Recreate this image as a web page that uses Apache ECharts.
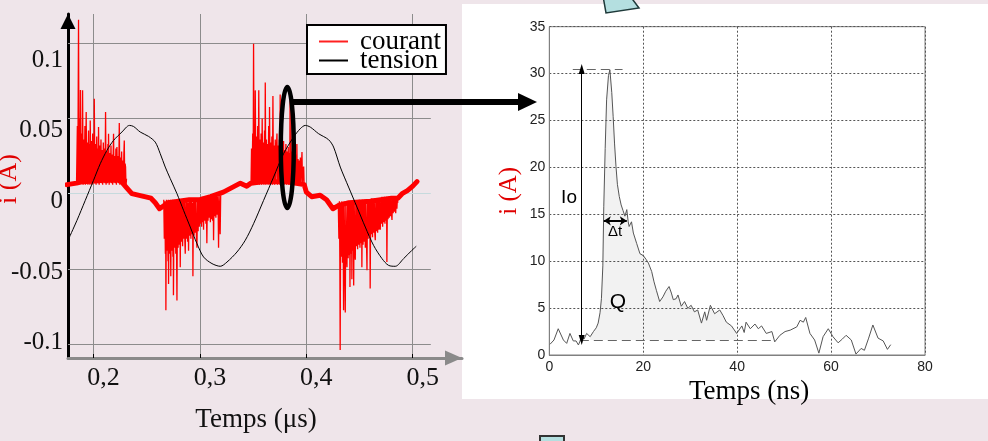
<!DOCTYPE html>
<html>
<head>
<meta charset="utf-8">
<script src="https://cdn.jsdelivr.net/npm/echarts@6/dist/echarts.min.js"></script>
<style>
html,body{margin:0;padding:0;background:#efe5ea;}
#chart{width:988px;height:441px;}
</style>
</head>
<body>
<div id="chart"></div>
<script>
// ---------- LEFT CHART DATA (time in µs, current in A) ----------
const leftTickX = [0.2, 0.3, 0.4, 0.5];
const leftTickY = [-0.1, -0.05, 0, 0.05, 0.1];

// tension (black, arbitrary scale drawn on the current axis)
const tension = [
  [0.176,-0.031],[0.1844,-0.0178],[0.1922,-0.0045],[0.2,0.0089],[0.2063,0.0199],[0.2126,0.0288],
  [0.2188,0.0354],[0.2267,0.041],[0.2338,0.0454],[0.2376,0.0447],[0.2439,0.041],[0.2517,0.0381],
  [0.258,0.0343],[0.2627,0.0266],[0.2674,0.0177],[0.2721,0.01],[0.2784,0],[0.2846,-0.0111],
  [0.2909,-0.0222],[0.2972,-0.0332],[0.3034,-0.0421],[0.3113,-0.0465],[0.3191,-0.0483],
  [0.3254,-0.0455],[0.3348,-0.0388],[0.3426,-0.031],[0.3504,-0.02],[0.3598,-0.0045],
  [0.3692,0.011],[0.3786,0.0266],[0.388,0.0376],[0.3943,0.0432],[0.399,0.0454],[0.4037,0.0443],
  [0.4115,0.0399],[0.4209,0.0359],[0.4256,0.031],[0.4319,0.0177],[0.4397,0.0044],[0.4476,-0.0089],
  [0.4554,-0.0222],[0.4632,-0.0344],[0.4711,-0.0432],[0.4773,-0.0477],[0.4836,-0.0483],
  [0.4914,-0.0432],[0.4992,-0.0377],[0.5033,-0.035]
];

// courant: slow drift band
const courantBase = [
  [0.175,0.006],[0.184,0.007],[0.19,0.008],[0.21,0.009],[0.225,0.009],[0.231,0.004],[0.236,0.0],
  [0.242,-0.001],[0.248,-0.002],[0.254,-0.003],[0.258,-0.006],[0.262,-0.010],[0.266,-0.008],
  [0.27,-0.006],[0.28,-0.005],[0.29,-0.004],[0.30,-0.004],[0.31,-0.002],[0.318,0.0],[0.322,0.001],
  [0.33,0.004],[0.338,0.007],[0.344,0.005],[0.348,0.007],[0.36,0.008],[0.38,0.008],[0.398,0.006],
  [0.400,0.001],[0.405,-0.002],[0.413,-0.001],[0.419,-0.004],[0.425,-0.010],[0.430,-0.008],
  [0.44,-0.006],[0.46,-0.005],[0.47,-0.004],[0.48,-0.003],[0.486,-0.003],[0.49,0.0],[0.495,0.002],
  [0.50,0.005],[0.504,0.008]
];

// courant: discharge bursts (positive half-wave 1)
const burst1 = [
  [0.1840,0.006],[0.1848,0.045],[0.1852,0.007],[0.1859,0.1157],[0.1864,0.008],[0.1870,0.050],
  [0.1874,0.007],[0.1877,0.069],[0.1882,0.008],[0.1889,0.040],[0.1893,0.007],[0.1897,0.0687],
  [0.1902,0.006],[0.1908,0.036],[0.1913,0.007],[0.1919,0.045],[0.1924,0.006],[0.1931,0.0543],
  [0.1936,0.007],[0.1942,0.034],[0.1947,0.006],[0.1953,0.042],[0.1958,0.007],[0.1963,0.033],
  [0.1966,0.006],[0.1969,0.0487],[0.1975,0.007],[0.1981,0.035],[0.1986,0.006],[0.1992,0.040],
  [0.1997,0.008],[0.2002,0.032],[0.2004,0.007],[0.2007,0.0632],[0.2013,0.007],[0.2019,0.033],
  [0.2024,0.006],[0.2030,0.038],[0.2035,0.008],[0.2041,0.030],[0.2044,0.007],[0.2047,0.0443],
  [0.2053,0.006],[0.2059,0.032],[0.2064,0.008],[0.2070,0.036],[0.2075,0.007],[0.2081,0.029],
  [0.2086,0.006],[0.2092,0.034],[0.2097,0.008],[0.2103,0.030],[0.2108,0.007],[0.2113,0.0543],
  [0.2118,0.006],[0.2124,0.028],[0.2129,0.007],[0.2135,0.033],[0.2138,0.008],[0.2141,0.0399],
  [0.2147,0.006],[0.2153,0.027],[0.2158,0.008],[0.2164,0.032],[0.2169,0.007],[0.2175,0.026],
  [0.2180,0.006],[0.2188,0.0399],[0.2193,0.008],[0.2199,0.025],[0.2204,0.007],[0.2210,0.030],
  [0.2215,0.006],[0.2220,0.031],[0.2225,0.008],[0.2231,0.025],[0.2236,0.007],[0.2242,0.047],
  [0.2247,0.006],[0.2253,0.024],[0.2258,0.008],[0.2264,0.028],[0.2269,0.007],[0.2275,0.022],
  [0.2280,0.006],[0.2285,0.026],[0.2289,0.0354],[0.2293,0.007],[0.2297,0.020],[0.2301,0.0177],
  [0.2305,0.005],[0.2310,0.010]
];
// negative half-wave 1
const burst2 = [
  [0.2660,-0.004],[0.2665,-0.030],[0.2670,-0.005],[0.2675,-0.040],[0.2678,-0.006],[0.2680,-0.0776],
  [0.2685,-0.004],[0.2690,-0.038],[0.2695,-0.005],[0.2700,-0.045],[0.2703,-0.004],[0.2705,-0.060],
  [0.2710,-0.005],[0.2716,-0.040],[0.2721,-0.004],[0.2726,-0.055],[0.2731,-0.006],[0.2736,-0.038],
  [0.2741,-0.004],[0.2746,-0.042],[0.2749,-0.005],[0.2751,-0.0676],[0.2757,-0.004],[0.2762,-0.036],
  [0.2767,-0.006],[0.2773,-0.040],[0.2778,-0.005],[0.2781,-0.045],[0.2784,-0.071],[0.2789,-0.004],
  [0.2795,-0.036],[0.2800,-0.005],[0.2806,-0.034],[0.2811,-0.004],[0.2815,-0.049],[0.2820,-0.006],
  [0.2826,-0.032],[0.2831,-0.004],[0.2837,-0.035],[0.2842,-0.005],[0.2848,-0.030],[0.2853,-0.004],
  [0.2859,-0.033],[0.2862,-0.040],[0.2867,-0.005],[0.2873,-0.030],[0.2878,-0.004],[0.2884,-0.032],
  [0.2889,-0.006],[0.2893,-0.038],[0.2898,-0.004],[0.2904,-0.028],[0.2909,-0.005],[0.2915,-0.030],
  [0.2920,-0.004],[0.2926,-0.027],[0.2931,-0.006],[0.2934,-0.055],[0.2939,-0.004],[0.2945,-0.028],
  [0.2950,-0.005],[0.2956,-0.026],[0.2961,-0.003],[0.2967,-0.029],[0.2972,-0.036],[0.2977,-0.004],
  [0.2983,-0.025],[0.2988,-0.003],[0.2994,-0.022],[0.2999,-0.004],[0.3005,-0.020],[0.3010,-0.003],
  [0.3016,-0.022],[0.3021,-0.002],[0.3027,-0.019],[0.3031,-0.003],[0.3034,-0.024],[0.3039,-0.002],
  [0.3045,-0.018],[0.3050,-0.003],[0.3056,-0.020],[0.3060,-0.002],[0.3065,-0.033],[0.3070,-0.003],
  [0.3076,-0.018],[0.3081,-0.002],[0.3087,-0.016],[0.3092,-0.001],[0.3098,-0.019],[0.3103,-0.002],
  [0.3109,-0.017],[0.3114,-0.001],[0.3120,-0.018],[0.3125,-0.002],[0.3128,-0.031],[0.3133,-0.001],
  [0.3139,-0.015],[0.3144,-0.002],[0.3150,-0.016],[0.3155,-0.001],[0.3161,-0.014],[0.3166,-0.002],
  [0.3172,-0.016],[0.3175,-0.036],[0.3180,-0.001],[0.3185,-0.012],[0.3190,-0.027],[0.3195,-0.001]
];
// positive half-wave 2
const burst3 = [
  [0.3480,0.006],[0.3485,0.030],[0.3490,0.007],[0.3496,0.040],[0.3500,0.006],[0.3504,0.0997],
  [0.3509,0.007],[0.3515,0.035],[0.3518,0.006],[0.3520,0.0687],[0.3526,0.007],[0.3532,0.038],
  [0.3537,0.006],[0.3543,0.045],[0.3548,0.008],[0.3553,0.0687],[0.3558,0.006],[0.3564,0.036],
  [0.3569,0.007],[0.3575,0.040],[0.3580,0.006],[0.3585,0.050],[0.3590,0.008],[0.3596,0.034],
  [0.3601,0.006],[0.3607,0.042],[0.3611,0.007],[0.3614,0.074],[0.3619,0.006],[0.3625,0.036],
  [0.3630,0.008],[0.3636,0.033],[0.3641,0.006],[0.3646,0.045],[0.3651,0.007],[0.3654,0.0576],
  [0.3659,0.006],[0.3665,0.034],[0.3670,0.008],[0.3676,0.038],[0.3681,0.006],[0.3686,0.065],
  [0.3691,0.007],[0.3697,0.032],[0.3702,0.006],[0.3708,0.036],[0.3713,0.008],[0.3719,0.030],
  [0.3724,0.040],[0.3729,0.006],[0.3735,0.032],[0.3740,0.007],[0.3746,0.036],[0.3751,0.006],
  [0.3754,0.066],[0.3759,0.008],[0.3765,0.030],[0.3770,0.006],[0.3776,0.034],[0.3781,0.007],
  [0.3786,0.035],[0.3791,0.006],[0.3797,0.029],[0.3802,0.008],[0.3808,0.033],[0.3813,0.006],
  [0.3819,0.028],[0.3824,0.007],[0.3830,0.031],[0.3835,0.006],[0.3841,0.027],[0.3844,0.007],
  [0.3847,0.062],[0.3852,0.006],[0.3858,0.028],[0.3863,0.008],[0.3866,0.050],[0.3871,0.006],
  [0.3877,0.027],[0.3880,0.035],[0.3885,0.007],[0.3891,0.025],[0.3896,0.006],[0.3902,0.026],
  [0.3907,0.008],[0.3911,0.033],[0.3916,0.006],[0.3922,0.023],[0.3927,0.007],[0.3933,0.022],
  [0.3938,0.006],[0.3944,0.024],[0.3949,0.007],[0.3955,0.020],[0.3959,0.0277],[0.3964,0.006],
  [0.3970,0.016],[0.3975,0.018],[0.3980,0.004]
];
// negative half-wave 2
const burst4 = [
  [0.4300,-0.006],[0.4306,-0.030],[0.4311,-0.005],[0.4315,-0.045],[0.4318,-0.104],[0.4323,-0.006],
  [0.4329,-0.042],[0.4334,-0.005],[0.4340,-0.046],[0.4345,-0.007],[0.4350,-0.0776],[0.4355,-0.005],
  [0.4361,-0.042],[0.4366,-0.079],[0.4371,-0.006],[0.4377,-0.040],[0.4382,-0.049],[0.4387,-0.005],
  [0.4393,-0.043],[0.4398,-0.007],[0.4404,-0.041],[0.4407,-0.006],[0.4410,-0.062],[0.4415,-0.005],
  [0.4421,-0.040],[0.4425,-0.006],[0.4428,-0.057],[0.4433,-0.005],[0.4439,-0.038],[0.4442,-0.006],
  [0.4445,-0.061],[0.4450,-0.005],[0.4455,-0.036],[0.4460,-0.044],[0.4465,-0.006],[0.4471,-0.035],
  [0.4476,-0.005],[0.4482,-0.037],[0.4487,-0.006],[0.4493,-0.034],[0.4498,-0.004],[0.4504,-0.036],
  [0.4509,-0.006],[0.4515,-0.033],[0.4519,-0.005],[0.4522,-0.049],[0.4527,-0.004],[0.4533,-0.034],
  [0.4538,-0.006],[0.4544,-0.032],[0.4549,-0.004],[0.4554,-0.036],[0.4559,-0.005],[0.4565,-0.031],
  [0.4570,-0.051],[0.4575,-0.004],[0.4581,-0.030],[0.4586,-0.005],[0.4592,-0.028],[0.4597,-0.004],
  [0.4600,-0.063],[0.4605,-0.005],[0.4611,-0.027],[0.4616,-0.003],[0.4622,-0.029],[0.4627,-0.005],
  [0.4633,-0.026],[0.4638,-0.003],[0.4644,-0.027],[0.4648,-0.031],[0.4653,-0.004],[0.4659,-0.025],
  [0.4664,-0.003],[0.4670,-0.026],[0.4675,-0.004],[0.4681,-0.024],[0.4686,-0.003],[0.4692,-0.022],
  [0.4695,-0.024],[0.4700,-0.003],[0.4706,-0.020],[0.4711,-0.002],[0.4717,-0.022],[0.4722,-0.003],
  [0.4728,-0.019],[0.4733,-0.002],[0.4739,-0.020],[0.4744,-0.003],[0.4750,-0.018],[0.4754,-0.002],
  [0.4757,-0.0455],[0.4762,-0.003],[0.4768,-0.017],[0.4773,-0.002],[0.4779,-0.016],[0.4784,-0.003],
  [0.4790,-0.015],[0.4795,-0.002],[0.4801,-0.014],[0.4805,-0.0175],[0.4810,-0.002],[0.4816,-0.013],
  [0.4821,-0.003],[0.4827,-0.012],[0.4832,-0.002],[0.4838,-0.011],[0.4840,-0.013],[0.4845,-0.002],
  [0.4851,-0.010],[0.4856,-0.003],[0.4860,-0.006]
];

// ---------- RIGHT CHART DATA (time in ns, current in A) ----------
const pulse = [
  [0.15,1.14],[1.0,1.6],[1.9,2.8],[2.3,2.7],[3.0,1.6],[3.7,1.24],[4.4,2.3],[5.1,1.5],[5.7,1.5],
  [6.2,1.07],[6.9,1.9],[7.4,1.7],[7.95,2.3],[8.7,1.95],[9.4,2.5],[10.0,2.9],[10.4,3.4],[10.8,4.5],
  [11.1,6.0],[11.4,9.5],[11.6,15.8],[11.9,22],[12.2,27.2],[12.6,29.8],[12.9,30.4],[13.3,28],
  [13.6,25.4],[13.9,22.5],[14.2,20.1],[14.5,18.2],[14.9,16.9],[15.3,16.0],[15.7,15.4],[16.1,14.8],
  [16.5,15.5],[16.8,14.2],[17.0,13.7],[17.5,14.2],[17.9,13.0],[18.6,11.9],[19.3,10.8],[20.0,10.6],
  [20.6,10.2],[21.1,9.8],[21.8,8.9],[22.3,7.8],[22.8,6.9],[23.5,5.7],[24.2,6.2],[24.8,6.8],
  [25.5,7.3],[26.0,6.6],[26.4,5.9],[27.0,6.0],[27.4,6.4],[28.1,5.2],[28.8,5.7],[29.5,4.97],
  [30.2,5.3],[30.9,4.6],[31.6,4.8],[32.4,3.4],[33.1,4.6],[33.5,3.7],[34.3,5.3],[35.2,4.4],
  [36.3,4.8],[37.0,4.2],[37.7,3.5],[38.8,3.1],[39.9,2.3],[41.0,3.1],[41.5,2.4],[41.9,3.5],
  [42.8,2.8],[43.8,3.3],[44.5,2.8],[45.2,3.1],[46.2,2.3],[47.4,2.5],[48.0,1.4],[49.1,2.1],
  [50.2,2.5],[51.3,2.65],[52.7,3.0],[53.4,3.7],[54.1,3.5],[54.6,4.0],[55.5,2.3],[56.5,1.6],
  [57.4,0.2],[58.3,1.95],[59.4,2.8],[60.4,1.95],[61.5,1.3],[62.4,1.7],[63.2,2.1],[64.3,1.6],
  [65.3,0.1],[66.4,0.7],[67.1,0.5],[68.0,1.8],[68.9,3.2],[70.0,1.8],[71.1,1.5],[72.0,0.6],[72.7,1.1]
];
const chargeStart = 8.7, chargeEnd = 39.9;   // Q area limits (ns)
const baseline = 1.6;                          // dashed baseline (A)
const peak = 30.5;                             // Io top (A)
const dtStart = 11.6, dtEnd = 16.5, dtLevel = 14.3;

const serif = "'Liberation Serif','DejaVu Serif',serif";
const sans = "'Liberation Sans','DejaVu Sans',sans-serif";

const chart = echarts.init(document.getElementById('chart'), null, {renderer: 'canvas'});

const option = {
  backgroundColor: '#efe5ea',
  animation: false,
  legend: {
    data: [{name: 'courant', icon: 'rect'}, {name: 'tension', icon: 'rect'}],
    orient: 'vertical',
    left: 307, top: 25,
    backgroundColor: '#ffffff',
    borderColor: '#000', borderWidth: 2, borderRadius: 0,
    padding: [3, 5, 0, 12],
    itemGap: -8, itemWidth: 29, itemHeight: 2,
    itemStyle: {borderWidth: 0},
    textStyle: {fontFamily: serif, fontSize: 27, color: '#000', padding: [0, 0, 0, 7]},
    selectedMode: false
  },
  grid: [
    {left: 68, top: 14, width: 394, height: 344, outerBoundsMode: 'none', containLabel: false},
    {left: 549.3, top: 26.7, width: 375.7, height: 328.3, outerBoundsMode: 'none', containLabel: false,
     show: true, borderColor: '#808080', borderWidth: 1, backgroundColor: 'transparent'}
  ],
  xAxis: [
    {
      gridIndex: 0, type: 'value', min: 0.176, max: 0.5463,
      axisLine: {show: true, onZero: false, lineStyle: {color: '#8a8a8a', width: 3},
                 symbol: ['none', 'triangle'], symbolSize: [15, 17], symbolOffset: [0, -8.5]},
      axisTick: {show: true, inside: true, length: 4, lineStyle: {color: '#000', width: 1}, customValues: leftTickX},
      axisLabel: {customValues: leftTickX, formatter: v => String(v).replace('.', ','),
                  fontFamily: serif, fontSize: 26, color: '#111', margin: 7, padding: [0, 0, 0, 20]},
      splitLine: {show: true, lineStyle: {color: '#8c8c8c', width: 1}},
      name: 'Temps (μs)', nameLocation: 'middle', nameGap: 48,
      nameTextStyle: {fontFamily: serif, fontSize: 27, color: '#111', padding: [0, 18, 0, 0]}
    },
    {
      gridIndex: 1, type: 'value', min: 0, max: 80, interval: 20,
      axisLine: {show: true, onZero: false, lineStyle: {color: '#808080', width: 1}},
      axisTick: {show: false},
      axisLabel: {fontFamily: sans, fontSize: 14, color: '#222', margin: 5},
      splitLine: {show: true, lineStyle: {color: '#555', width: 1, type: [2, 2]}},
      name: 'Temps (ns)', nameLocation: 'middle', nameGap: 18,
      nameTextStyle: {fontFamily: serif, fontSize: 27, color: '#000', padding: [0, 0, 0, 24]}
    }
  ],
  yAxis: [
    {
      gridIndex: 0, type: 'value', min: -0.1093, max: 0.1195,
      axisLine: {show: true, onZero: false, lineStyle: {color: '#000', width: 3},
                 symbol: ['none', 'triangle'], symbolSize: [15, 15], symbolOffset: [0, -7.5]},
      axisTick: {show: false}, axisLabel: {show: false}, splitLine: {show: false},
      name: 'i (A)', nameLocation: 'middle', nameRotate: 90, nameGap: 46,
      nameTextStyle: {fontFamily: serif, fontSize: 26, color: '#e00000', padding: [0, 0, 0, 14]}
    },
    {
      // label scale of the original figure (its tick labels are not aligned on the grid)
      gridIndex: 0, type: 'value', position: 'left', min: -0.11082, max: 0.13254,
      axisLine: {show: false}, axisTick: {show: false}, splitLine: {show: false},
      axisLabel: {customValues: leftTickY, fontFamily: serif, fontSize: 25, color: '#111', margin: 5}
    },
    {
      gridIndex: 1, type: 'value', min: 0, max: 35, interval: 5,
      axisLine: {show: true, onZero: false, lineStyle: {color: '#808080', width: 1}},
      axisTick: {show: false},
      axisLabel: {fontFamily: sans, fontSize: 14, color: '#222', margin: 4},
      splitLine: {show: true, lineStyle: {color: '#555', width: 1, type: [2, 2]}},
      name: 'i (A)', nameLocation: 'middle', nameRotate: 90, nameGap: 27,
      nameTextStyle: {fontFamily: serif, fontSize: 25, color: '#e00000'}
    }
  ],
  series: [
    { // horizontal grid lines of the left plot
      type: 'line', xAxisIndex: 0, yAxisIndex: 0, data: [], silent: true,
      markLine: {
        z: 1, silent: true, symbol: ['none', 'none'], label: {show: false},
        data: leftTickY.map(v => [
          {coord: [0.176, v], lineStyle: {color: v === 0 ? '#c6dadd' : '#8c8c8c', width: 1, type: 'solid'}},
          {coord: [0.517, v]}
        ])
      }
    },
    {
      name: 'courant', type: 'line', xAxisIndex: 0, yAxisIndex: 0, data: courantBase,
      symbol: 'none', z: 2, color: '#ff2020',
      itemStyle: {color: '#ff2020'},
      lineStyle: {color: '#ff0000', width: 5, join: 'round', cap: 'round'}
    },
    {
      name: 'courant', type: 'line', xAxisIndex: 0, yAxisIndex: 0,
      data: burst1.concat([[null, null]], burst2, [[null, null]], burst3, [[null, null]], burst4),
      connectNulls: false, symbol: 'none', z: 2, color: '#ff2020',
      itemStyle: {color: '#ff2020'},
      lineStyle: {color: '#ff0000', width: 1.3}
    },
    {
      name: 'tension', type: 'line', xAxisIndex: 0, yAxisIndex: 0, data: tension,
      symbol: 'none', z: 3, color: '#000', itemStyle: {color: '#000'}, smooth: 0.3,
      lineStyle: {color: '#000', width: 1}
    },
    { // charge Q area
      type: 'line', xAxisIndex: 1, yAxisIndex: 2,
      data: pulse.filter(p => p[0] >= chargeStart && p[0] <= chargeEnd),
      symbol: 'none', silent: true, lineStyle: {width: 0},
      areaStyle: {color: 'rgba(0,0,0,0.07)', origin: baseline}
    },
    {
      type: 'line', xAxisIndex: 1, yAxisIndex: 2, data: pulse, symbol: 'none', silent: true,
      lineStyle: {color: '#555', width: 1},
      markLine: {
        silent: true, symbol: ['none', 'none'], label: {show: false},
        data: [
          [{coord: [6.5, baseline], lineStyle: {color: '#666', width: 1, type: [9, 5]}}, {coord: [47.3, baseline]}],
          [{coord: [5.0, peak], lineStyle: {color: '#666', width: 1, type: [9, 5]}}, {coord: [15.6, peak]}],
          [{coord: [6.9, baseline], symbol: 'triangle', symbolSize: [6, 10], symbolRotate: 180,
            lineStyle: {color: '#000', width: 1, type: 'solid'}},
           {coord: [6.9, peak], symbol: 'triangle', symbolSize: [6, 10]}],
          [{coord: [dtStart, dtLevel], symbol: 'arrow', symbolSize: [7, 7],
            lineStyle: {color: '#000', width: 2, type: 'solid'}},
           {coord: [dtEnd, dtLevel], symbol: 'arrow', symbolSize: [7, 7]}]
        ]
      },
      markPoint: {
        silent: true, symbol: 'circle', symbolSize: 0,
        label: {show: true, position: 'inside', color: '#000', fontFamily: sans},
        data: [
          {coord: [4.2, 16.8], label: {formatter: 'Io', fontSize: 19}},
          {coord: [14.0, 13.1], label: {formatter: 'Δt', fontSize: 15}},
          {coord: [14.6, 5.6], label: {formatter: 'Q', fontSize: 21}}
        ]
      }
    }
  ],
  graphic: [
    {type: 'rect', z: -100, silent: true, shape: {x: 462, y: 4, width: 526, height: 395}, style: {fill: '#ffffff'}},
    {type: 'polygon', z: 100, silent: true, shape: {points: [[603, -4], [606, 13], [639, 8], [630, -4]]},
     style: {fill: '#b4dfe0', stroke: '#1f3a3a', lineWidth: 1.5}},
    {type: 'rect', z: 100, silent: true, shape: {x: 540, y: 436, width: 24, height: 10},
     style: {fill: '#b4dfe0', stroke: '#333', lineWidth: 2}},
    {type: 'ellipse', z: 100, silent: true, shape: {cx: 287.3, cy: 147.5, rx: 6.5, ry: 60.5},
     style: {fill: 'none', stroke: '#000', lineWidth: 4.5}},
    {type: 'line', z: 100, silent: true, shape: {x1: 292, y1: 102, x2: 522, y2: 102},
     style: {stroke: '#000', lineWidth: 6}},
    {type: 'polygon', z: 100, silent: true, shape: {points: [[518, 93], [537, 102], [518, 111]]},
     style: {fill: '#000'}}
  ]
};
chart.setOption(option);
</script>
</body>
</html>
